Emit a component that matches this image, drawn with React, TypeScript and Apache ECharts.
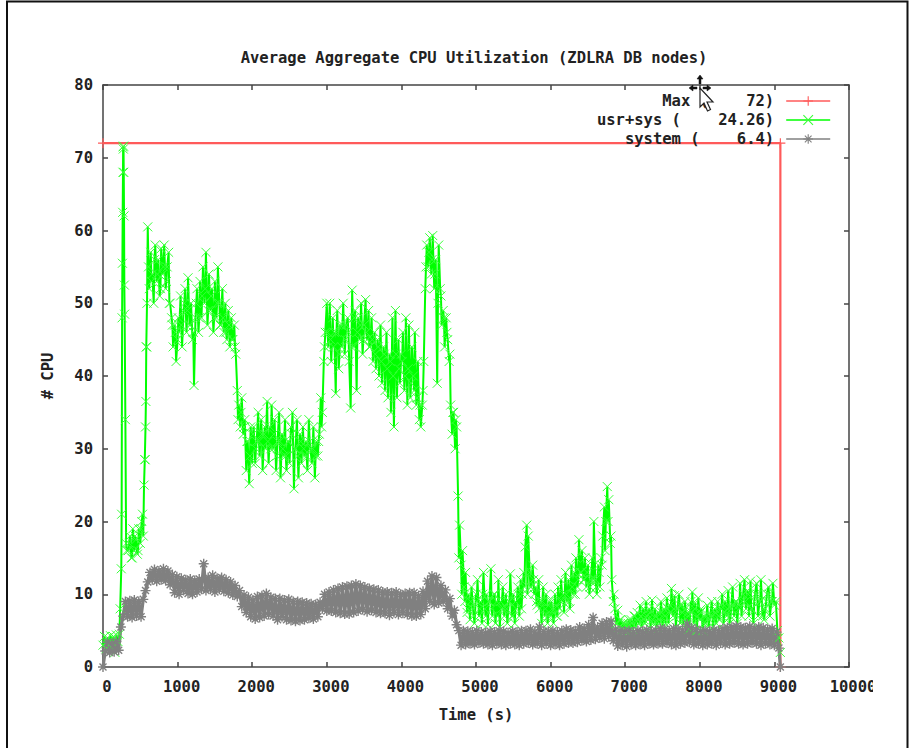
import React, { useEffect, useRef } from "react";
import * as echarts from "echarts";

const TITLE = "Average Aggregate CPU Utilization (ZDLRA DB nodes)";
const X_NAME = "Time (s)";
const Y_NAME = "# CPU";
const MAX_NAME = "Max (    72)";
const USR_NAME = "usr+sys (    24.26)";
const SYS_NAME = "system (    6.4)";

const maxTimes = [0, 9080, 9080];
const maxValues = [72, 72, 0];

// usr+sys: start, spike, then a steady 20 s cadence
const usrStartTimes = [0, 20, 40, 60, 80, 100, 120, 140, 160, 180, 200, 220, 230, 245, 250, 256, 260, 264, 268, 270, 272, 275, 278, 282, 286, 290, 300, 310, 320];
const usrStartValues = [3, 4.2, 2.5, 4, 3, 4.3, 3.5, 4.2, 2, 4.4, 3.5, 4.5, 8, 13.5, 21, 48, 55.5, 62.5, 68, 71.5, 71.2, 71.6, 68, 62, 52.5, 48.5, 34, 17, 16];
const USR_STEP_START = 340;
const USR_STEP = 20;
const usrA = [16, 18, 15, 19, 16, 17.5, 15.5, 19, 17, 20, 18, 28.5, 44, 60.5, 52, 57, 54, 50, 58, 53, 56, 51, 57.5, 54, 58, 52, 55, 57, 50, 48, 44, 47, 42, 45];
const usrB = [46, 51, 44, 49, 52, 46, 53.5, 47, 50, 45, 38.7, 48, 52, 46, 53, 48, 55, 50, 57, 47, 54, 49, 52, 46, 53];
const usrC = [48, 55, 50, 47, 52, 46, 50, 45, 49, 44, 48, 45, 47, 43, 38, 36, 33, 37, 32, 34, 27, 31, 25.2, 33, 28];
const usrD = [33, 28, 31, 35, 29, 34, 27, 32, 30, 36.5, 28, 33, 36, 30, 34, 27, 31, 35, 26, 32, 29, 34, 27, 31, 28];
const usrE = [33, 35, 24.5, 30, 34, 26, 32, 28, 33, 29, 31, 27, 34, 30, 28, 33, 26, 31, 29, 32, 37, 35, 42, 46, 50];
const usrF = [44, 50, 42, 48, 46, 37.6, 49, 41, 47, 44, 50, 43, 47, 48, 42, 35.6, 51.8, 44, 49, 38, 48, 45, 50, 43, 47];
const usrG = [50.5, 45, 49, 44, 48, 42, 46, 41, 45, 40, 47, 39, 44, 38, 46, 37, 43, 35, 48, 33, 49, 37, 45, 39, 43];
const usrH = [46, 38, 48, 36, 47, 37, 44, 40, 46, 36, 42, 34, 33, 36, 42, 52, 58, 55, 59, 54, 59.3, 52, 56, 39, 58];
const usrI = [52, 47, 49, 44, 48, 45, 42, 36, 32, 35, 30, 33, 23.5, 19.5, 14, 16, 11, 13, 7.5, 10, 6.5, 11, 8, 6, 10];
const usrJ = [12, 7, 9, 6, 13, 8, 10, 5.8, 9, 13.5, 7, 10, 6, 9, 12, 5.5, 8, 11, 7, 10, 6, 9, 12.8, 7, 10];
const usrK = [6, 8, 11, 7, 12, 10, 13, 16.5, 19.5, 18, 13, 11, 14, 10, 11, 8.5, 12, 9, 6, 11, 7, 10, 6, 9, 7];
const usrL = [8, 6, 10, 7, 11, 8, 12, 9, 7.5, 13, 9, 12, 8, 14, 10, 13, 15, 11, 17.5, 13, 16, 12, 15, 11, 14];
const usrM = [10, 12, 15, 20, 12, 10, 14, 11, 15, 18, 22, 20, 24.8, 23, 17, 12, 9, 8, 6, 7.8, 5.5, 6.5, 5.2, 6, 5];
const usrN = [5.5, 6, 5, 6.5, 5.2, 7, 5.5, 7.5, 6, 8.5, 5.5, 8, 6, 9, 6.5, 8, 5.3, 9.2, 6, 8, 5.5, 7.5, 6, 9, 5.5];
const usrO = [8, 6, 9.5, 6, 8.5, 10.8, 7, 9.8, 5.5, 8, 10, 6, 8.5, 5.8, 9, 6, 7.5, 5.2, 9, 10.3, 6, 8.8, 5, 9.5, 6.5];
const usrP = [8, 5, 7, 6, 8.5, 5.5, 7, 9, 5.5, 8, 6, 9, 6.5, 8.5, 10, 6, 9, 7, 10.5, 6, 8, 11, 7, 9, 6];
const usrQ = [8.5, 11.5, 7, 10, 12, 8, 10.5, 7, 11.8, 8, 6, 10, 11.5, 7, 9, 12, 7, 6.5, 8, 10, 11, 7, 9, 11.5, 8.5, 9, 5, 4, 2];

// usr+sys: extra samples on the climb before the 600 s plateau
const usrRiseTimes = [350, 390, 430, 470, 510, 530, 550, 565, 570, 575, 585, 590];
const usrRiseValues = [17, 15, 18, 16, 19, 21, 25, 28.5, 33, 36.5, 44, 50];

// usr+sys: mid-band samples lying between the ones above, every 40 s
const USR_MID_START = 610;
const USR_MID_STEP = 40;
const usrMid = [
  55, 53, 56, 54, 52, 55, 53, 50, 47, 46,
  48, 47, 50, 49, 47, 46, 50, 48, 51, 52,
  49, 51, 48, 50, 47, 48, 46, 47, 45, 44,
  34, 35, 33, 31, 29, 32, 30, 31, 32, 33,
  31, 30, 32, 29, 31, 30, 29, 31, 32, 30,
  29, 31, 30, 29, 31, 30, 29, 31, 33, 44,
  46, 45, 44, 46, 43, 47, 45, 46, 44, 48,
  46, 47, 45, 46, 44, 45, 43, 44, 42, 43,
  41, 42, 40, 43, 41, 42, 40, 41, 39, 38,
  37, 36, 38, 55, 57, 56, 54, 50, 51, 48,
  46, 43, 35, 34, 15, 10, 9, 8, 9, 7,
  9, 8, 10, 7, 9, 8, 10, 7, 9, 8,
  8, 9, 7, 9, 10, 8, 11, 10, 11, 12,
  9, 8, 9, 8, 7, 9, 8, 7, 9, 10,
  10, 9, 11, 10, 12, 13, 12, 13, 11, 12,
  11, 13, 14, 16, 20, 18, 10, 6, 6.5, 6,
  6, 6.5, 6, 7, 6.5, 7, 6.5, 7, 7.5, 6.5,
  7, 6.5, 7.5, 7, 8, 7.5, 8, 7, 8.5, 7.5,
  8, 7, 7.5, 8, 7, 7.5, 6, 7, 6.5, 7,
  7.5, 7, 8, 7.5, 8, 7, 8.5, 9, 8, 9,
  9, 10, 8, 9, 10, 9, 8, 9, 10, 9,
];

// system: 30 s cadence, closing point on the axis
const SYS_STEP = 30;
const sysA = [0, 2.2, 3.4, 2, 3.2, 2.1, 3.5, 2.3, 5.5, 7, 9, 6.9, 9.1, 6.8, 9.2, 7, 9, 6.9, 9.3, 10.5, 11.7, 13, 12, 13.4, 11.8, 13.2, 12, 13.5, 11.9, 13.2];
const sysB = [11.3, 12.7, 10.2, 12.4, 10, 12.2, 10.5, 12, 10.1, 12.1, 10, 11.9, 10.3, 12.1, 10.7, 14.2, 10.5, 12.3, 10.7, 12.6, 10.3, 12.2, 10.7, 12.3, 10.4, 12, 10.2, 11.7, 9.9, 11.2];
const sysC = [9.7, 10.5, 8.3, 9.9, 7.5, 9.6, 6.9, 9.2, 6.6, 9.7, 6.8, 9.8, 7, 10.1, 7.2, 9.6, 7, 9.4, 6.5, 9.4, 6.9, 9.2, 6.5, 9.3, 6.4, 9, 6.3, 9, 6.4, 8.9];
const sysD = [6.5, 8.8, 6.7, 8.7, 6.6, 8.6, 6.9, 8.9, 8, 10, 7.7, 10.3, 7.7, 10.6, 7.5, 10.8, 7.4, 11, 7.3, 11.1, 7.3, 11.2, 7.5, 11.4, 7.7, 11.2, 7.9, 11, 7.6, 10.8];
const sysE = [7.8, 10.7, 7.5, 10.6, 7.4, 10.3, 7.4, 10.3, 7.1, 10.2, 7.5, 10.3, 7.2, 10, 7.4, 10.1, 7.2, 10.2, 7, 10.2, 7, 9.8, 7.2, 10.4, 8, 11.8, 9, 12.5, 8.6, 12.3];
const sysF = [8.8, 11.2, 9, 10.6, 8, 9.4, 7, 7.8, 5.8, 5, 3, 5, 3.1, 4.9, 3.2, 4.8, 3.1, 5, 3.3, 4.8, 3.2, 4.7, 3.1, 4.9, 3, 4.8, 3.2, 5, 3.1, 4.9];
const sysG = [3, 4.7, 3.2, 4.9, 3.1, 4.8, 3, 5, 3.2, 5, 3.3, 5.2, 3.1, 4.8, 3.2, 5.5, 3, 4.9, 3.2, 4.9, 3, 5, 3.1, 4.8, 3, 5, 3.2, 5.2, 3.3, 5.1];
const sysH = [3.3, 5, 3.4, 5.5, 3.6, 5.3, 3.5, 5.8, 3.7, 6.8, 3.8, 5.5, 4, 6, 3.9, 6.2, 4.2, 6.3, 3.6, 5.2, 2.9, 5, 3, 4.9, 2.8, 5, 3.1, 4.8, 3, 5];
const sysI = [3.1, 4.9, 3, 5.1, 3.2, 4.9, 3.1, 5, 3.2, 5.3, 3.2, 5.2, 3.3, 5, 3.1, 5.3, 3, 5.2, 3.2, 5.1, 3.3, 5.9, 3.4, 5.4, 3.1, 5.2, 3.2, 4.9, 3, 5];
const sysJ = [3.1, 4.9, 3.2, 5.1, 3, 5, 3.3, 5.3, 3.1, 5.4, 3.2, 5.5, 3.3, 5.6, 3.2, 5.5, 3.1, 5.4, 3.2, 5.6, 3.3, 5.3, 3.2, 5.5, 3, 5.4, 3.2, 5.2, 3.1, 5.3, 3, 4.8, 2.6];
const SYS_END_TIME = 9080;
const SYS_END_VALUE = 0;

const PLUS = "path://M0 5L10 5M5 0L5 10";
const CROSS = "path://M0 0L10 10M10 0L0 10";
const STAR = "path://M0 5L10 5M5 0L5 10M1.5 1.5L8.5 8.5M8.5 1.5L1.5 8.5";
const FONT = "'DejaVu Sans Mono', monospace";
const INK = "#222222";

echarts.graphic.registerShape(
  "pointerArrow",
  echarts.graphic.extendPath("M0 0L0 19L4 15L7.5 23L10.5 21.5L7 14L13 14Z", {})
);
echarts.graphic.registerShape(
  "moveCross",
  echarts.graphic.extendPath(
    "M11 0L14 4L12 4L12 9L10 9L10 4L8 4ZM0 13L4 10L4 12L8 12L8 14L4 14L4 16ZM22 13L18 10L18 12L14 12L14 14L18 14L18 16Z",
    {}
  )
);

export default function App() {
  const ref = useRef<HTMLDivElement>(null);
  useEffect(() => {
    const chart = echarts.init(ref.current!, null, { renderer: "svg" });
    const usrTail = [usrA, usrB, usrC, usrD, usrE, usrF, usrG, usrH, usrI, usrJ, usrK, usrL, usrM, usrN, usrO, usrP, usrQ].flat();
    const usrData = [
      ...usrStartTimes.map((t, i) => [t, usrStartValues[i]]),
      ...usrTail.map((v, i) => [USR_STEP_START + i * USR_STEP, v]),
      ...usrRiseTimes.map((t, i) => [t, usrRiseValues[i]]),
      ...usrMid.map((v, i) => [USR_MID_START + i * USR_MID_STEP, v]),
    ].sort((a, b) => a[0] - b[0]);
    const sysAll = [sysA, sysB, sysC, sysD, sysE, sysF, sysG, sysH, sysI, sysJ].flat();
    const sysData = [...sysAll.map((v, i) => [i * SYS_STEP, v]), [SYS_END_TIME, SYS_END_VALUE]];
    const maxData = maxTimes.map((t, i) => [t, maxValues[i]]);

    const axisLine = { show: true, onZero: false, lineStyle: { color: "#444444", width: 1.5 } };
    const axisTick = { show: true, inside: true, length: 5, lineStyle: { color: "#444444", width: 1.5 } };
    const labelStyle = { color: INK, fontFamily: FONT, fontWeight: "bold" as const, fontSize: 15.5 };
    const legendBase = {
      orient: "vertical" as const,
      right: 78,
      align: "right" as const,
      itemWidth: 44,
      itemHeight: 12,
      itemGap: 0,
      padding: 0,
      selectedMode: false,
      lineStyle: { width: 1.6 },
      itemStyle: { borderWidth: 1.1 },
      textStyle: { ...labelStyle, padding: [0, 7, 0, 0] },
    };

    chart.setOption({
      animation: false,
      backgroundColor: "#ffffff",
      title: {
        text: TITLE,
        left: 469,
        top: 45,
        textAlign: "center",
        textStyle: { ...labelStyle, color: INK },
      },
      legend: [
        { ...legendBase, top: 93, data: [MAX_NAME] },
        { ...legendBase, top: 112, data: [USR_NAME] },
        { ...legendBase, top: 131, data: [SYS_NAME] },
      ],
      grid: { left: 103, right: 60, top: 85, bottom: 81, containLabel: false },
      xAxis: [
        {
          type: "value",
          min: 0,
          max: 10000,
          interval: 1000,
          name: X_NAME,
          nameLocation: "middle",
          nameGap: 40,
          nameTextStyle: labelStyle,
          axisLine,
          axisTick,
          splitLine: { show: false },
          axisLabel: {
            ...labelStyle,
            margin: 12,
            padding: [0, 0, 0, 8],
            hideOverlap: false,
            showMaxLabel: true,
            formatter: (v: number) => String(v),
          },
        },
        {
          type: "value",
          position: "top",
          min: 0,
          max: 10000,
          interval: 1000,
          axisLine,
          axisTick,
          splitLine: { show: false },
          axisLabel: { show: false },
        },
      ],
      yAxis: [
        {
          type: "value",
          min: 0,
          max: 80,
          interval: 10,
          name: Y_NAME,
          nameLocation: "middle",
          nameGap: 47,
          nameRotate: 90,
          nameTextStyle: labelStyle,
          axisLine,
          axisTick,
          splitLine: { show: false },
          axisLabel: { ...labelStyle, margin: 10, padding: [4, 0, 0, 0] },
        },
        {
          type: "value",
          position: "right",
          min: 0,
          max: 80,
          interval: 10,
          axisLine,
          axisTick,
          splitLine: { show: false },
          axisLabel: { show: false },
        },
      ],
      series: [
        {
          name: MAX_NAME,
          type: "line",
          data: maxData,
          clip: false,
          symbol: PLUS,
          symbolSize: 10,
          showAllSymbol: true,
          lineStyle: { color: "#ff5a5a", width: 2.2 },
          itemStyle: { color: "none", borderColor: "#ff5a5a", borderWidth: 1.2 },
          emphasis: { disabled: true },
        },
        {
          name: USR_NAME,
          type: "line",
          data: usrData,
          clip: false,
          symbol: CROSS,
          symbolSize: 9,
          showAllSymbol: true,
          lineStyle: { color: "#00ff00", width: 2 },
          itemStyle: { color: "none", borderColor: "#38ff38", borderWidth: 1 },
          emphasis: { disabled: true },
        },
        {
          name: SYS_NAME,
          type: "line",
          data: sysData,
          clip: false,
          symbol: STAR,
          symbolSize: 10,
          showAllSymbol: true,
          lineStyle: { color: "#808080", width: 3.2 },
          itemStyle: { color: "none", borderColor: "#808080", borderWidth: 1.4 },
          emphasis: { disabled: true },
        },
      ],
      graphic: [
        {
          type: "polyline",
          z: 50,
          silent: true,
          shape: { points: [[7, 748], [7, 1.5], [907.5, 1.5], [907.5, 748]] },
          style: { fill: "none", stroke: "#111111", lineWidth: 2 },
        },
        {
          type: "rect",
          z: 60,
          silent: true,
          shape: { x: 873, y: 672, width: 33, height: 30 },
          style: { fill: "#ffffff" },
        },
        {
          type: "moveCross",
          x: 689,
          y: 75,
          z: 70,
          silent: true,
          style: { fill: "#111111", stroke: "#111111", lineWidth: 0.5 },
        },
        {
          type: "pointerArrow",
          x: 700,
          y: 88,
          z: 71,
          silent: true,
          style: { fill: "#ffffff", stroke: "#222222", lineWidth: 1.2 },
        },
      ],
    });
    return () => chart.dispose();
  }, []);
  return <div ref={ref} style={{ position: "fixed", left: 0, top: 0, width: 909, height: 748 }} />;
}
